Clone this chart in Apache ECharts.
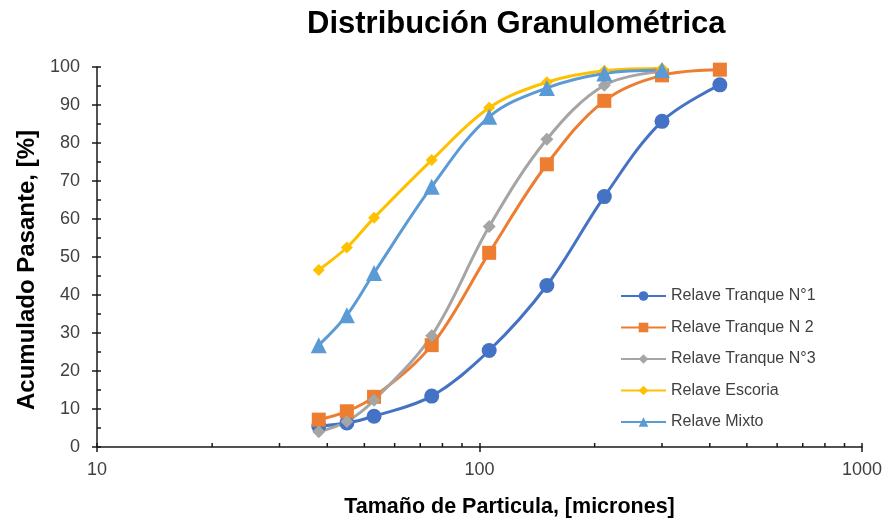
<!DOCTYPE html>
<html>
<head>
<meta charset="utf-8">
<script src="https://cdn.jsdelivr.net/npm/echarts@6/dist/echarts.min.js"></script>
<style>html,body{margin:0;padding:0;background:#fff}#c{width:889px;height:519px}</style>
</head>
<body>
<div id="c"></div>
<script>
const sizes = [38, 45, 53, 75, 106, 150, 212, 300, 425];
const tranque1 = [5.5, 6.3, 8.1, 13.4, 25.4, 42.5, 65.9, 85.7, 95.3];
const tranque2 = [7.2, 9.4, 13.2, 26.8, 51.1, 74.4, 91.1, 97.8, 99.3];
const tranque3 = [4.0, 6.7, 12.3, 29.3, 58.0, 81.0, 95.2, 98.9];
const escoria = [46.6, 52.5, 60.3, 75.5, 89.3, 96.0, 99.0, 99.6];
const mixto = [26.8, 34.7, 45.8, 68.5, 86.9, 94.5, 98.3, 99.2];
const xMinorTicks = [20, 30, 40, 50, 60, 70, 80, 90, 200, 300, 400, 500, 600, 700, 800, 900];
const names = ['Relave Tranque N°1', 'Relave Tranque N 2', 'Relave Tranque N°3', 'Relave Escoria', 'Relave Mixto'];

function pairs(ys) { return ys.map((v, i) => [sizes[i], v]); }

const axisColor = '#1a1a1a';
const labelColor = '#404040';
const chart = echarts.init(document.getElementById('c'));

function mkSeries(name, ys, color, symbol, size) {
  return {
    name: name, type: 'line', data: pairs(ys), smooth: 0.35,
    symbol: symbol, symbolSize: size,
    lineStyle: { color: color, width: 3 },
    itemStyle: { color: color },
    xAxisIndex: 0, yAxisIndex: 0
  };
}

chart.setOption({
  animation: false,
  title: {
    text: 'Distribución Granulométrica', left: 302, top: 4,
    textStyle: { fontFamily: 'Liberation Sans', fontSize: 31, fontWeight: 'bold', color: '#000' }
  },
  grid: { left: 97, right: 27, top: 67, bottom: 72, containLabel: false, outerBoundsMode: 'none' },
  legend: {
    orient: 'vertical', left: 615, top: 283, itemWidth: 45, itemHeight: 12, itemGap: 15.5,
    data: names,
    textStyle: { fontFamily: 'Liberation Sans', fontSize: 16, color: labelColor }
  },
  xAxis: [{
    type: 'log', logBase: 10, min: 10, max: 1000,
    name: 'Tamaño de Particula, [micrones]', nameLocation: 'middle', nameGap: 49,
    nameTextStyle: { fontFamily: 'Liberation Sans', fontSize: 21.5, fontWeight: 'bold', color: '#000',
      padding: [0, 0, 0, 60] },
    axisLine: { lineStyle: { color: axisColor, width: 1.5 } },
    axisTick: { show: true, inside: false, length: 5, lineStyle: { color: axisColor, width: 1.5 } },
    axisLabel: { fontFamily: 'Liberation Sans', fontSize: 18, color: labelColor, margin: 14,
      formatter: function (v) { return String(Math.round(v)); } },
    splitLine: { show: false }
  }, {
    type: 'log', logBase: 10, min: 10, max: 1000, position: 'bottom',
    axisLine: { show: false },
    axisTick: { show: true, inside: true, length: 4, lineStyle: { color: axisColor, width: 1.5 } },
    axisLabel: { show: false }, splitLine: { show: false }
  }],
  yAxis: [{
    type: 'value', min: 0, max: 100, interval: 10,
    name: 'Acumulado Pasante, [%]', nameLocation: 'middle', nameGap: 56, nameRotate: 90,
    nameTextStyle: { fontFamily: 'Liberation Sans', fontSize: 24, fontWeight: 'bold', color: '#000',
      padding: [0, 26, 0, 0] },
    axisLine: { show: true, lineStyle: { color: axisColor, width: 1.5 } },
    axisTick: { show: true, inside: false, length: 5, lineStyle: { color: axisColor, width: 1.5 } },
    axisLabel: { fontFamily: 'Liberation Sans', fontSize: 18, color: labelColor, margin: 17 },
    splitLine: { show: false }
  }, {
    type: 'value', min: 0, max: 100, interval: 10, position: 'left',
    axisLine: { show: false },
    axisTick: { show: true, inside: true, length: 4, lineStyle: { color: axisColor, width: 1.5 } },
    minorTick: { show: true, splitNumber: 2, length: 4, lineStyle: { color: axisColor, width: 1.5 } },
    axisLabel: { show: false }, splitLine: { show: false }
  }],
  series: [
    {
      type: 'custom', silent: true, xAxisIndex: 0, yAxisIndex: 0,
      data: xMinorTicks.map(v => [v, 0]),
      renderItem: function (params, api) {
        const p = api.coord([api.value(0), 0]);
        return { type: 'line', shape: { x1: p[0], y1: p[1], x2: p[0], y2: p[1] - 4 },
          style: { stroke: axisColor, lineWidth: 1.5 } };
      },
      z: 1
    },
    mkSeries(names[0], tranque1, '#4472C4', 'circle', 15),
    mkSeries(names[1], tranque2, '#ED7D31', 'rect', 14),
    mkSeries(names[2], tranque3, '#A5A5A5', 'diamond', 13),
    mkSeries(names[3], escoria, '#FFC000', 'diamond', 12),
    mkSeries(names[4], mixto, '#5B9BD5', 'triangle', 16)
  ]
});
</script>
</body>
</html>
